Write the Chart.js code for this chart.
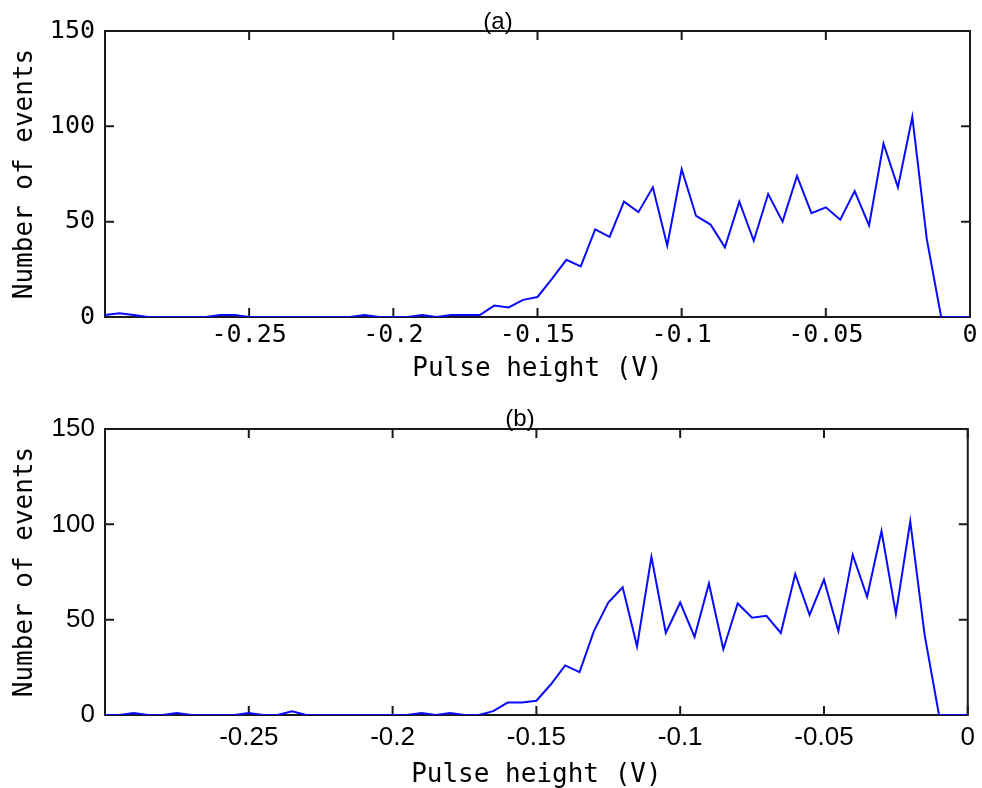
<!DOCTYPE html>
<html>
<head>
<meta charset="utf-8">
<script src="https://cdn.jsdelivr.net/npm/chart.js@4.4.0/dist/chart.umd.min.js"></script>
<style>
  html, body { margin: 0; padding: 0; background: #fff; }
  #wrap { position: relative; width: 982px; height: 788px; overflow: hidden; }
  canvas { position: absolute; left: 0; }
  #chartA { top: 0; }
  #chartB { top: 395px; }
  .painel {
    position: absolute;
    font-family: "Liberation Sans", Arial, sans-serif;
    font-size: 24px;
    line-height: 1;
    color: #000;
    transform: translate(-50%, -50%);
  }
</style>
</head>
<body>
<div id="wrap">
  <canvas id="chartA" width="982" height="395" style="width:982px;height:395px"></canvas>
  <canvas id="chartB" width="982" height="393" style="width:982px;height:393px"></canvas>
  <div class="painel" style="left:498px; top:21px;">(a)</div>
  <div class="painel" style="left:520px; top:418px;">(b)</div>
</div>
<script>
// Pulse height (V), bin centres
const pulseHeight = [
  -0.3, -0.295, -0.29, -0.285, -0.28, -0.275, -0.27, -0.265, -0.26, -0.255,
  -0.25, -0.245, -0.24, -0.235, -0.23, -0.225, -0.22, -0.215, -0.21, -0.205,
  -0.2, -0.195, -0.19, -0.185, -0.18, -0.175, -0.17, -0.165, -0.16, -0.155,
  -0.15, -0.145, -0.14, -0.135, -0.13, -0.125, -0.12, -0.115, -0.11, -0.105,
  -0.1, -0.095, -0.09, -0.085, -0.08, -0.075, -0.07, -0.065, -0.06, -0.055,
  -0.05, -0.045, -0.04, -0.035, -0.03, -0.025, -0.02, -0.015, -0.01, -0.005,
  0
];

// (a) number of events
const eventsA = [
  1, 2, 1, 0, 0, 0, 0, 0, 1, 1,
  0, 0, 0, 0, 0, 0, 0, 0, 1, 0,
  0, 0, 1, 0, 1, 1, 1, 6, 5, 9,
  10.5, 20, 30, 26.5, 46, 42, 60.5, 55, 68, 37.5,
  77.5, 53, 48.5, 36.5, 60.5, 40, 64.5, 50, 74, 54.5,
  57.5, 51, 66, 48, 91, 68, 105, 41, 0, 0,
  0
];

// (b) number of events
const eventsB = [
  0, 0, 1, 0, 0, 1, 0, 0, 0, 0,
  1, 0, 0, 2, 0, 0, 0, 0, 0, 0,
  0, 0, 1, 0, 1, 0, 0, 2, 6.5, 6.5,
  7.5, 16, 26, 22.5, 44, 59, 67, 36, 83, 43,
  59, 41, 69, 34.5, 58.5, 51, 52, 43, 74, 52.5,
  71, 44, 84, 62, 96.5, 53, 101.5, 42, 0, 0,
  0
];

const xTicks = [-0.25, -0.2, -0.15, -0.1, -0.05, 0];
const yTicks = [0, 50, 100, 150];

const fonteMono = 'DejaVu Sans Mono';
const fonteSans = 'Liberation Sans';

Chart.defaults.color = '#000';

// caixa dos eixos + ticks para dentro (estilo matlab)
const caixaEixos = {
  id: 'caixaEixos',
  beforeDatasetsDraw(chart) {
    const { ctx, chartArea: a, scales: { x, y } } = chart;
    ctx.save();
    ctx.strokeStyle = '#1a1a1a';
    ctx.lineWidth = 2;
    ctx.strokeRect(a.left, a.top, a.right - a.left, a.bottom - a.top);
    ctx.beginPath();
    xTicks.forEach(v => {
      const px = x.getPixelForValue(v);
      ctx.moveTo(px, a.bottom); ctx.lineTo(px, a.bottom - 9);
      ctx.moveTo(px, a.top); ctx.lineTo(px, a.top + 9);
    });
    yTicks.forEach(v => {
      const py = y.getPixelForValue(v);
      ctx.moveTo(a.left, py); ctx.lineTo(a.left + 9, py);
      ctx.moveTo(a.right, py); ctx.lineTo(a.right - 9, py);
    });
    ctx.stroke();
    ctx.restore();
  }
};

function criarGrafico(id, valores, cfg) {
  const ctx = document.getElementById(id).getContext('2d');
  return new Chart(ctx, {
    type: 'line',
    data: {
      datasets: [{
        data: pulseHeight.map((v, i) => ({ x: v, y: valores[i] })),
        borderColor: 'rgb(10, 10, 255)',
        borderWidth: 2,
        pointRadius: 0,
        tension: 0,
        fill: false
      }]
    },
    options: {
      responsive: false,
      animation: false,
      layout: { padding: { left: 0, right: 12, top: cfg.top, bottom: 0 } },
      plugins: { legend: { display: false }, tooltip: { enabled: false } },
      scales: {
        x: {
          type: 'linear',
          min: -0.3,
          max: 0,
          afterBuildTicks: scale => { scale.ticks = xTicks.map(v => ({ value: v })); },
          afterFit: scale => { scale.height = cfg.xHeight; },
          grid: { display: false, drawTicks: false },
          border: { display: false },
          ticks: {
            padding: cfg.xPad,
            maxRotation: 0,
            autoSkip: false,
            font: { family: cfg.tickFont, size: cfg.tickSize },
            callback: v => String(v)
          },
          title: {
            display: true,
            text: 'Pulse height (V)',
            font: { family: fonteMono, size: 26 },
            padding: { top: 0, bottom: cfg.titlePad }
          }
        },
        y: {
          min: 0,
          max: 150,
          afterBuildTicks: scale => { scale.ticks = yTicks.map(v => ({ value: v })); },
          afterFit: scale => { scale.width = 105; },
          grid: { display: false, drawTicks: false },
          border: { display: false },
          ticks: {
            padding: 10,
            font: { family: cfg.tickFont, size: cfg.tickSize }
          },
          title: {
            display: true,
            text: 'Number of events',
            font: { family: fonteMono, size: 26 },
            padding: { top: 10, bottom: 0 }
          }
        }
      }
    },
    plugins: [caixaEixos]
  });
}

criarGrafico('chartA', eventsA, {
  top: 31, xHeight: 78, xPad: 3, titlePad: 10, tickFont: fonteMono, tickSize: 25
});
criarGrafico('chartB', eventsB, {
  top: 34, xHeight: 73, xPad: 7, titlePad: -3, tickFont: fonteSans, tickSize: 26
});
</script>
</body>
</html>
